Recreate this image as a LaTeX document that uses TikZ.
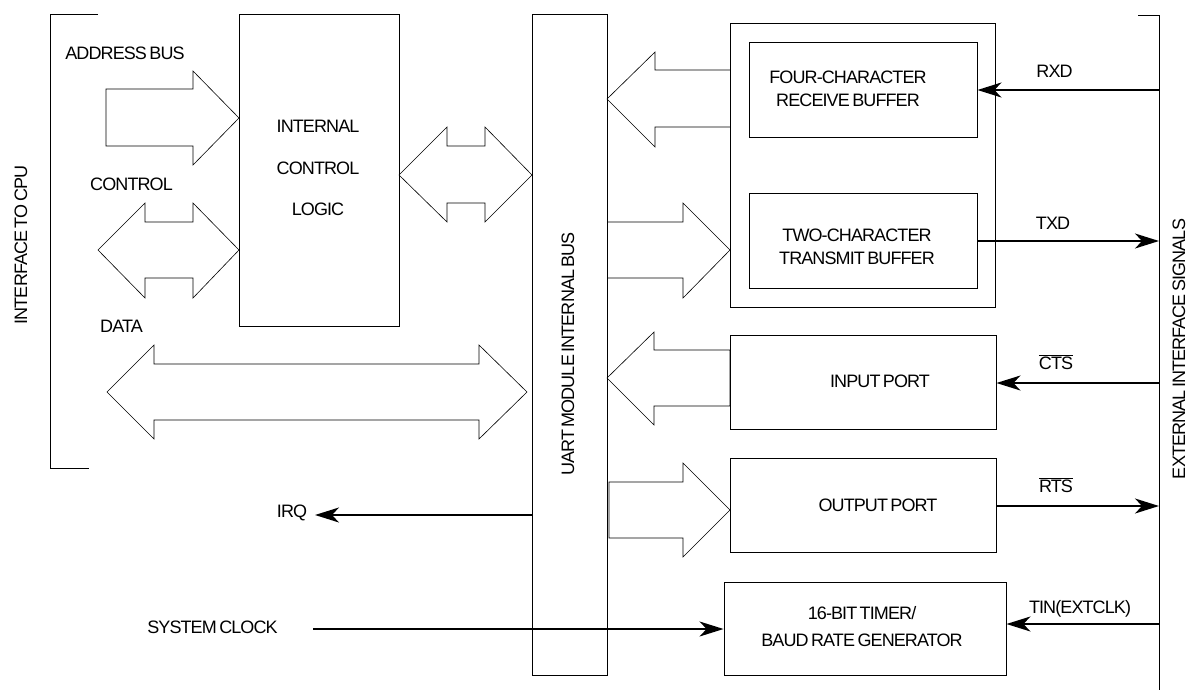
\documentclass[tikz,border=0pt]{standalone}
\usepackage{fontspec}
\setmainfont{Liberation Sans}[LetterSpace=-5,WordSpace=0.6]
\usetikzlibrary{arrows.meta}

\begin{document}
\begin{tikzpicture}[x=1pt,y=-1pt,line width=0.9pt,
  >={Stealth[length=24pt,width=15pt,inset=7pt]},
  lbl/.style={font=\fontsize{18}{23}\selectfont,inner sep=0pt,align=center},
  blk/.style={draw,line width=0.9pt,minimum width=#1},
  sig/.style={line width=1.6pt},
  hollow/.style={line width=0.6pt}]
\useasboundingbox (0,0) rectangle (1187,691);
% ---------- interface brackets ----------
\draw (98,14) -- (50,14) -- (50,468) -- (89,468);
\draw (1138,15) -- (1159,15) -- (1159,690);
\node[lbl,rotate=90] (cpu) at (21,245) {INTERFACE TO CPU};
\node[lbl,rotate=90] (ext) at (1179,349) {EXTERNAL INTERFACE SIGNALS};
% ---------- blocks ----------
\node[blk=160,minimum height=312] (icl) at (319,170) {};
\node[blk=75,minimum height=661] (bus) at (569.5,344.5) {};
\node[blk=265,minimum height=284] (rtbox) at (862.5,165) {};
\node[blk=228,minimum height=95] (rxbuf) at (863,89.5) {};
\node[blk=228,minimum height=95] (txbuf) at (863,240.5) {};
\node[blk=266,minimum height=94] (inport) at (863,382) {};
\node[blk=266,minimum height=94] (outport) at (863,505) {};
\node[blk=282,minimum height=93] (timer) at (865,628.5) {};
% ---------- block texts ----------
\node[lbl,font=\fontsize{18}{41.5}\selectfont] (icltxt) at (318,168) {INTERNAL\\CONTROL\\LOGIC};
\node[lbl,rotate=90] (bustxt) at (568,354) {UART MODULE INTERNAL BUS};
\node[lbl] (rxtxt) at (848,88.5) {FOUR-CHARACTER\\RECEIVE BUFFER};
\node[lbl] (txtxt) at (857,247) {TWO-CHARACTER\\TRANSMIT BUFFER};
\node[lbl] (intxt) at (880,381) {INPUT PORT};
\node[lbl] (outtxt) at (878,505) {OUTPUT PORT};
\node[lbl,font=\fontsize{18}{27}\selectfont] (tmrtxt) at (862,626.5) {16-BIT TIMER/\\BAUD RATE GENERATOR};
% ---------- bus labels ----------
\node[lbl] (addr) at (125,53.5) {ADDRESS BUS};
\node[lbl] (ctrl) at (131.5,184.5) {CONTROL};
\node[lbl] (data) at (121.5,326) {DATA};
\node[lbl] (irq) at (292,512.5) {IRQ};
\node[lbl] (sysclk) at (212.5,627.5) {SYSTEM CLOCK};
\node[lbl] (rxd) at (1054.5,71.5) {RXD};
\node[lbl] (txd) at (1053,223.5) {TXD};
\node[lbl] (cts) at (1056,362) {$\overline{\mbox{CTS}}$};
\node[lbl] (rts) at (1056,485) {$\overline{\mbox{RTS}}$};
\node[lbl] (tin) at (1080,609) {TIN(EXTCLK)};
% ---------- hollow bus arrows ----------
% address bus
\draw[hollow] (106,89) -- (193,89) -- (193,71) -- (239,118) -- (193,165)
      -- (193,146) -- (106,146) -- cycle;
% control
\draw[hollow] (98,250) -- (145,203) -- (145,222) -- (193,222) -- (193,203)
      -- (239,250) -- (193,298) -- (193,278) -- (145,278) -- (145,298) -- cycle;
% data
\draw[hollow] (107,392) -- (154,345) -- (154,364) -- (479,364) -- (479,345)
      -- (527,392) -- (479,439) -- (479,420) -- (154,420) -- (154,439) -- cycle;
% control logic <-> internal bus
\draw[hollow] (399,175) -- (447,127) -- (447,146) -- (485,146) -- (485,127)
      -- (532,175) -- (485,222) -- (485,203) -- (447,203) -- (447,222) -- cycle;
% receive buffer -> bus
\draw[hollow] (730,70) -- (655,70) -- (655,52) -- (607,99) -- (655,147)
      -- (655,127) -- (730,127);
% bus -> transmit buffer
\draw[hollow] (607,222) -- (683,222) -- (683,203) -- (730,250) -- (683,298)
      -- (683,278) -- (607,278);
% input port -> bus
\draw[hollow] (730,350) -- (654,350) -- (654,332) -- (607,378) -- (654,425)
      -- (654,406) -- (730,406) -- cycle;
% bus -> output port
\draw[hollow] (609,482) -- (683,482) -- (683,463) -- (730,510) -- (683,557)
      -- (683,538) -- (609,538) -- cycle;
% ---------- signal lines ----------
\coordinate (rxin) at (1159,90);
\coordinate (txout) at (1159,241);
\coordinate (ctsin) at (1159,383);
\coordinate (rtsout) at (1159,506);
\coordinate (tinin) at (1159,624);
\coordinate (irqout) at (315,515);
\coordinate (clkin) at (313,629);
\draw[sig,->] (rxin) -- (rxin -| rxbuf.east);
\draw[sig,->] (txbuf.east |- txout) -- (txout);
\draw[sig,->] (ctsin) -- (ctsin -| inport.east);
\draw[sig,->] (outport.east |- rtsout) -- (rtsout);
\draw[sig,->] (tinin) -- (tinin -| timer.east);
\draw[sig,->] (bus.west |- irqout) -- (irqout);
\draw[sig,->] (clkin) -- (clkin -| timer.west);
\end{tikzpicture}
\end{document}
